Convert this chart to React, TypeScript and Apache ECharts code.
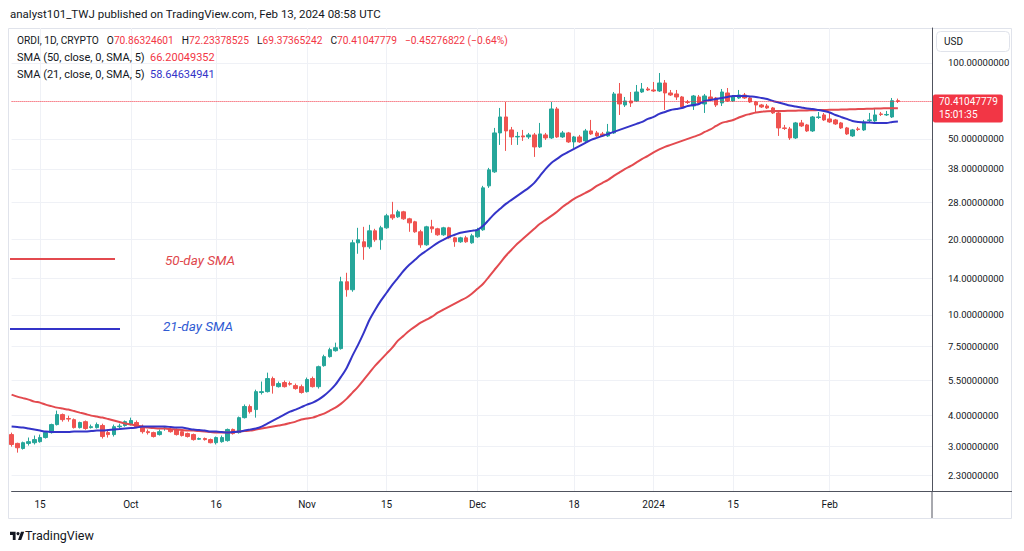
import React, { useEffect, useRef } from "react";
import * as echarts from "echarts";

// ---------- data ----------
const START_DATE = Date.UTC(2023, 8, 10); // Sep 10, 2023
const EMPTY_DAYS_AFTER = 6;

// [open, high, low, close]
const OHLC: number[][] = [
  [3.35, 3.41, 3.0, 3.06], [3.09, 3.11, 2.84, 2.97], [2.95, 3.14, 2.92, 3.11], [3.09, 3.26, 3.03, 3.14],
  [3.11, 3.32, 3.06, 3.2], [3.14, 3.35, 3.11, 3.26], [3.26, 3.44, 3.23, 3.41], [3.41, 3.7, 3.38, 3.67],
  [3.67, 4.17, 3.64, 4.02], [4.02, 4.06, 3.77, 3.84], [3.88, 3.98, 3.77, 3.86], [3.84, 3.88, 3.54, 3.57],
  [3.57, 3.77, 3.54, 3.74], [3.77, 3.81, 3.5, 3.54], [3.57, 3.67, 3.54, 3.6], [3.57, 3.74, 3.54, 3.67],
  [3.64, 3.7, 3.23, 3.29], [3.41, 3.47, 3.26, 3.35], [3.35, 3.67, 3.29, 3.6], [3.6, 3.7, 3.54, 3.62],
  [3.64, 3.81, 3.6, 3.77], [3.67, 3.91, 3.64, 3.81], [3.74, 3.81, 3.57, 3.6], [3.6, 3.67, 3.38, 3.44],
  [3.44, 3.51, 3.35, 3.41], [3.41, 3.44, 3.26, 3.29], [3.35, 3.51, 3.32, 3.44], [3.54, 3.6, 3.47, 3.56],
  [3.51, 3.57, 3.41, 3.44], [3.51, 3.54, 3.32, 3.35], [3.44, 3.47, 3.29, 3.32], [3.38, 3.41, 3.26, 3.29],
  [3.35, 3.38, 3.17, 3.2], [3.21, 3.26, 3.19, 3.23], [3.23, 3.26, 3.17, 3.2], [3.2, 3.23, 3.09, 3.11],
  [3.11, 3.29, 3.06, 3.26], [3.14, 3.32, 3.11, 3.26], [3.17, 3.54, 3.14, 3.51], [3.51, 3.54, 3.35, 3.38],
  [3.41, 3.95, 3.38, 3.91], [3.91, 4.41, 3.88, 4.33], [4.33, 4.41, 4.06, 4.13], [4.21, 5.05, 3.91, 4.96],
  [4.92, 5.44, 4.83, 4.96], [4.96, 5.9, 4.92, 5.59], [5.59, 5.69, 4.87, 5.24], [5.19, 5.44, 5.15, 5.34],
  [5.39, 5.49, 5.15, 5.19], [5.34, 5.44, 5.24, 5.31], [5.24, 5.34, 5.05, 5.1], [5.19, 5.29, 4.87, 4.92],
  [4.96, 5.64, 4.92, 5.54], [5.59, 5.69, 5.15, 5.19], [5.19, 6.29, 5.1, 6.23], [6.29, 6.95, 6.23, 6.83],
  [6.83, 7.41, 6.77, 7.28], [7.21, 7.76, 7.15, 7.41], [7.35, 14.17, 7.28, 13.54], [13.54, 14.7, 11.81, 12.59],
  [12.59, 19.87, 12.36, 19.33], [19.33, 22.17, 17.49, 19.87], [19.51, 22.37, 16.55, 18.64], [18.64, 22.78, 18.3, 21.57],
  [21.57, 21.97, 19.51, 19.87], [19.87, 22.58, 18.14, 22.17], [22.17, 25.19, 21.97, 24.74], [24.96, 28.11, 23.85, 24.29],
  [24.51, 26.13, 24.29, 25.66], [25.66, 25.89, 23.85, 24.07], [24.07, 24.29, 21.38, 23.2], [23.42, 23.63, 21.18, 21.38],
  [21.38, 21.77, 18.47, 18.98], [18.98, 22.58, 18.81, 22.37], [22.37, 23.85, 21.18, 21.97], [21.97, 22.17, 20.61, 20.8],
  [20.8, 22.37, 20.61, 22.17], [22.17, 22.37, 20.05, 20.23], [20.23, 20.42, 18.64, 19.51], [19.51, 20.42, 19.33, 20.23],
  [20.23, 20.61, 19.33, 19.51], [19.33, 20.99, 19.16, 20.61], [20.42, 22.17, 20.23, 21.77], [21.77, 32.53, 21.57, 31.94],
  [32.53, 38.34, 31.94, 37.65], [36.97, 55.24, 36.63, 52.77], [52.77, 66.3, 47.3, 61.07], [61.07, 70.04, 44.78, 53.75],
  [54.24, 55.75, 47.3, 50.88], [50.88, 53.26, 47.3, 51.12], [51.35, 54.24, 49.06, 50.88], [50.88, 52.77, 49.96, 51.82],
  [51.82, 52.77, 42.39, 46.44], [46.44, 57.82, 46.02, 52.29], [51.82, 52.77, 49.51, 50.42], [50.42, 70.04, 49.96, 65.7],
  [65.7, 66.91, 50.42, 50.88], [50.88, 53.75, 50.42, 52.77], [52.77, 53.26, 48.17, 48.61], [48.61, 51.35, 46.02, 50.88],
  [50.88, 51.82, 48.17, 48.61], [49.06, 54.74, 48.61, 53.75], [53.75, 59.43, 51.82, 52.29], [52.77, 53.75, 50.88, 51.35],
  [52.29, 53.26, 50.88, 51.35], [51.35, 57.3, 50.88, 53.26], [52.77, 76.73, 52.29, 75.35], [75.35, 83.3, 62.2, 68.77],
  [68.14, 73.31, 66.91, 70.68], [70.68, 76.73, 66.91, 69.4], [70.68, 81.8, 70.04, 76.73], [76.73, 83.3, 76.04, 78.86],
  [78.86, 80.31, 77.44, 78.15], [78.15, 84.07, 76.73, 77.44], [77.44, 91.27, 76.73, 83.3], [83.3, 85.62, 65.11, 76.04],
  [76.04, 78.15, 73.98, 74.66], [75.35, 78.15, 71.33, 73.31], [73.31, 73.98, 66.3, 66.91], [70.04, 71.33, 68.77, 69.72],
  [67.52, 74.66, 65.11, 73.98], [73.31, 74.66, 68.77, 69.4], [68.77, 75.35, 63.35, 73.98], [73.31, 78.15, 70.68, 71.33],
  [72.64, 73.31, 66.91, 68.14], [69.4, 78.86, 67.52, 76.73], [76.04, 79.58, 70.04, 70.68], [70.68, 74.66, 70.04, 73.31],
  [72.64, 78.15, 71.98, 74.66], [74.66, 76.04, 71.98, 72.64], [72.64, 73.31, 69.4, 70.04], [70.04, 70.68, 63.35, 68.14],
  [68.14, 68.77, 66.3, 66.91], [67.52, 68.77, 65.7, 66.3], [66.3, 66.91, 62.77, 63.35], [63.35, 63.93, 51.35, 55.24],
  [55.24, 56.78, 54.24, 55.0], [54.74, 55.75, 49.51, 50.42], [50.42, 58.35, 49.96, 57.82], [57.82, 59.43, 55.75, 56.26],
  [56.78, 57.3, 53.26, 53.75], [53.75, 61.63, 53.26, 61.07], [60.78, 63.93, 59.98, 61.07], [62.2, 63.35, 58.89, 59.43],
  [59.98, 63.35, 57.82, 58.35], [59.43, 59.98, 56.78, 57.3], [57.82, 58.35, 54.74, 55.24], [55.24, 55.75, 51.82, 52.29],
  [51.35, 54.74, 50.88, 54.24], [54.74, 55.75, 53.75, 54.49], [54.24, 59.43, 53.75, 58.35], [59.16, 63.35, 58.35, 59.43],
  [58.89, 66.3, 58.35, 62.2], [62.77, 63.93, 61.63, 62.48], [62.2, 64.52, 61.63, 62.48], [61.07, 72.64, 60.52, 70.86324601],
  [70.86324601, 72.23378525, 69.37365242, 70.41047779],
];

const SMA21: number[] = [
  3.604, 3.588, 3.571, 3.539, 3.506, 3.474, 3.442, 3.427, 3.427, 3.427,
  3.427, 3.442, 3.442, 3.442, 3.458, 3.474, 3.474, 3.49, 3.506, 3.522,
  3.539, 3.555, 3.571, 3.604, 3.604, 3.604, 3.604, 3.604, 3.588, 3.571,
  3.571, 3.539, 3.506, 3.49, 3.474, 3.442, 3.442, 3.427, 3.411, 3.427,
  3.442, 3.474, 3.506, 3.539, 3.604, 3.704, 3.807, 3.912, 4.021, 4.133,
  4.209, 4.305, 4.405, 4.486, 4.611, 4.782, 5.006, 5.288, 5.688, 6.175,
  6.891, 7.619, 8.502, 9.573, 10.49, 11.39, 12.25, 13.17, 14.04, 14.97,
  15.81, 16.55, 17.33, 17.97, 18.64, 19.33, 19.87, 20.42, 20.8, 21.18,
  21.38, 21.57, 21.77, 22.58, 23.85, 25.19, 26.37, 27.6, 28.63, 29.69,
  30.79, 31.94, 33.43, 35.64, 37.99, 40.13, 41.62, 43.17, 44.37, 45.6,
  46.87, 48.17, 49.51, 50.42, 51.35, 52.29, 53.26, 54.24, 55.24, 56.26,
  57.3, 58.35, 59.98, 61.07, 62.77, 63.93, 65.11, 65.7, 66.3, 67.52,
  68.14, 68.77, 70.68, 71.33, 71.98, 72.64, 73.31, 73.98, 73.98, 73.98,
  73.64, 73.31, 72.64, 71.98, 70.68, 69.72, 68.77, 67.83, 67.21, 66.6,
  66.0, 65.7, 65.11, 64.52, 63.64, 62.2, 61.07, 59.98, 58.89, 58.35,
  58.09, 58.09, 57.82, 57.82, 57.82, 58.35, 58.64634941,
];

const SMA50: number[] = [
  4.826, 4.739, 4.675, 4.611, 4.528, 4.486, 4.405, 4.345, 4.286, 4.247,
  4.209, 4.152, 4.095, 4.04, 3.984, 3.948, 3.912, 3.86, 3.807, 3.755,
  3.704, 3.67, 3.637, 3.604, 3.571, 3.555, 3.539, 3.539, 3.522, 3.506,
  3.49, 3.474, 3.474, 3.458, 3.442, 3.427, 3.411, 3.411, 3.411, 3.427,
  3.442, 3.458, 3.474, 3.506, 3.539, 3.571, 3.604, 3.637, 3.67, 3.721,
  3.772, 3.842, 3.877, 3.912, 3.984, 4.058, 4.171, 4.286, 4.446, 4.653,
  4.915, 5.192, 5.535, 5.9, 6.289, 6.644, 7.018, 7.413, 7.902, 8.272,
  8.658, 8.98, 9.314, 9.573, 9.84, 10.21, 10.49, 10.78, 11.08, 11.39,
  11.7, 12.14, 12.7, 13.29, 14.17, 15.11, 16.1, 17.17, 18.14, 19.16,
  20.05, 20.99, 21.97, 22.99, 23.85, 24.74, 25.66, 26.86, 27.86, 28.88,
  29.69, 30.51, 31.36, 32.53, 33.43, 34.36, 35.64, 36.8, 37.99, 39.05,
  40.32, 41.62, 42.78, 44.17, 45.39, 46.44, 47.3, 48.17, 49.06, 49.96,
  50.88, 51.82, 53.26, 54.49, 56.26, 57.82, 58.62, 59.43, 60.78, 61.91,
  62.77, 63.64, 64.11, 64.41, 64.52, 64.52, 64.52, 64.64, 64.7, 64.76,
  64.82, 64.93, 65.05, 65.11, 65.17, 65.23, 65.35, 65.41, 65.53, 65.64,
  65.7, 65.82, 65.94, 66.0, 66.12, 66.18, 66.20049352,
];

const PRICE_TICKS = [100, 50, 38, 28, 20, 14, 10, 7.5, 5.5, 4, 3, 2.3];

const DATE_LABELS: Record<string, string> = {
  "2023-09-15": "15",
  "2023-10-01": "Oct",
  "2023-10-16": "16",
  "2023-11-01": "Nov",
  "2023-11-15": "15",
  "2023-12-01": "Dec",
  "2023-12-18": "18",
  "2024-01-01": "2024",
  "2024-01-15": "15",
  "2024-02-01": "Feb",
};

const HEADER = "analyst101_TWJ published on TradingView.com, Feb 13, 2024 08:58 UTC";
const SYMBOL = "ORDI, 1D, CRYPTO";
const SMA50_NAME = "SMA (50, close, 0, SMA, 5)";
const SMA21_NAME = "SMA (21, close, 0, SMA, 5)";
const COUNTDOWN = "15:01:35";

// ---------- styles ----------
const FONT = "Roboto, 'Liberation Sans', Arial, sans-serif";
const UP = "#26a69a";
const DOWN = "#ef5350";
const RED_LINE = "#e34a4f";
const BLUE_LINE = "#3434c8";
const TEXT = "#131722";
const GRID = "#eff1f6";
const AXIS = "#50535e";
const VAL_RED = "#f23645";

const TV_LOGO = "M14 22H7V11H0V4h14v18zM28 22h-8l7.5-18h8L28 22z";

export default function App() {
  const ref = useRef<HTMLDivElement>(null);

  useEffect(() => {
    if (!ref.current) return;
    try {
      echarts.graphic.registerShape("tvlogo", echarts.graphic.extendPath(TV_LOGO, {}));
    } catch (e) {
      /* ignore */
    }
    const chart = echarts.init(ref.current, null, { renderer: "svg" });

    const total = OHLC.length + EMPTY_DAYS_AFTER;
    const dates: string[] = [];
    for (let i = 0; i < total; i++) {
      const d = new Date(START_DATE + i * 86400000);
      dates.push(d.toISOString().slice(0, 10));
    }
    const candles = OHLC.map(([o, h, l, c]) => [o, c, l, h]);
    const last = OHLC[OHLC.length - 1];
    const prevClose = OHLC[OHLC.length - 2][3];
    const lastClose = last[3];
    const change = lastClose - prevClose;
    const pct = (change / prevClose) * 100;
    const sign = (v: number) => (v < 0 ? "\u2212" : "");
    const isLabel = (_i: number, v: string) => DATE_LABELS[v] !== undefined;
    const txt = (x: number, y: number, text: string, fill: string, size = 11, extra = "") => ({
      type: "text",
      x,
      y,
      z: 100,
      silent: true,
      style: { text, fill, font: `${extra}${size}px ${FONT}`, verticalAlign: "middle" },
    });
    const gap = "{s| }";
    const ohlcText =
      `{n|${SYMBOL}}${gap}{k|O}{v|${last[0].toFixed(8)}}${gap}{k|H}{v|${last[1].toFixed(8)}}${gap}` +
      `{k|L}{v|${last[2].toFixed(8)}}${gap}{k|C}{v|${last[3].toFixed(8)}}${gap}` +
      `{v|${sign(change)}${Math.abs(change).toFixed(8)}}{k| }{v|(${sign(pct)}${Math.abs(pct).toFixed(2)}%)}`;

    const option: any = {
      animation: false,
      backgroundColor: "#ffffff",
      textStyle: { fontFamily: FONT },
      grid: { left: 11.6, top: 28, width: 920.4, height: 463 },
      xAxis: {
        type: "category",
        data: dates,
        boundaryGap: false,
        axisLine: { show: true, lineStyle: { color: AXIS, width: 1 } },
        axisTick: { show: false },
        axisLabel: {
          interval: isLabel,
          formatter: (v: string) => DATE_LABELS[v] || "",
          color: TEXT,
          fontSize: 10,
          margin: 8,
          fontFamily: FONT,
        },
        splitLine: { show: true, interval: isLabel, lineStyle: { color: GRID, width: 1 } },
      },
      yAxis: {
        type: "log",
        logBase: 10,
        min: 2,
        max: 137.7,
        position: "right",
        axisLine: { show: true, lineStyle: { color: AXIS, width: 1 } },
        axisTick: { show: false },
        axisLabel: { show: false },
        splitLine: { show: false },
      },
      series: [
        {
          type: "candlestick",
          name: "ORDI",
          data: candles,
          barWidth: 4,
          z: 3,
          itemStyle: {
            color: UP,
            color0: DOWN,
            borderColor: UP,
            borderColor0: DOWN,
            borderWidth: 1,
          },
        },
        {
          type: "line",
          name: "SMA50",
          data: SMA50,
          symbol: "none",
          smooth: 0.3,
          clip: false,
          z: 4,
          lineStyle: { color: RED_LINE, width: 2 },
          markLine: {
            silent: true,
            z: 1,
            symbol: ["none", "none"],
            lineStyle: { color: GRID, width: 1, type: "solid" },
            label: {
              show: true,
              position: "end",
              distance: 16,
              color: TEXT,
              fontSize: 9.5,
              fontFamily: FONT,
            },
            data: PRICE_TICKS.map((v) => ({
              yAxis: v,
              label: { formatter: v.toFixed(8) },
            })),
          },
        },
        {
          type: "line",
          name: "SMA21",
          data: SMA21,
          symbol: "none",
          smooth: 0.3,
          clip: false,
          z: 4,
          lineStyle: { color: BLUE_LINE, width: 2 },
          markLine: {
            silent: true,
            z: 6,
            symbol: ["none", "none"],
            lineStyle: { color: VAL_RED, width: 1, type: "dotted" },
            label: {
              show: true,
              position: "end",
              distance: 1,
              offset: [0, 7],
              formatter: lastClose.toFixed(8) + "\n" + COUNTDOWN,
              backgroundColor: VAL_RED,
              color: "#ffffff",
              fontSize: 10,
              lineHeight: 13,
              padding: [1, 5, 1, 6],
              borderRadius: 2,
              fontFamily: FONT,
            },
            data: [{ yAxis: lastClose }],
          },
        },
      ],
      graphic: [
        {
          type: "rect",
          silent: true,
          z: -1,
          shape: { x: 8.5, y: 28.5, width: 1003, height: 490 },
          style: { fill: "none", stroke: "#e0e3eb", lineWidth: 1 },
        },
        {
          type: "line",
          silent: true,
          z: 100,
          shape: { x1: 932, y1: 491, x2: 932, y2: 518 },
          style: { stroke: AXIS, lineWidth: 1 },
        },
        {
          type: "line",
          silent: true,
          z: 100,
          shape: { x1: 932, y1: 491.5, x2: 1012, y2: 491.5 },
          style: { stroke: AXIS, lineWidth: 1 },
        },
        txt(10, 14, HEADER, TEXT, 11.5),
        {
          type: "text",
          x: 17,
          y: 40,
          z: 100,
          silent: true,
          style: {
            text: ohlcText,
            verticalAlign: "middle",
            font: `10px ${FONT}`,
            fill: TEXT,
            rich: {
              n: { fill: TEXT, fontSize: 10.2, fontFamily: FONT },
              k: { fill: TEXT, fontSize: 10.2, fontFamily: FONT },
              v: { fill: VAL_RED, fontSize: 10.2, fontFamily: FONT },
              s: { width: 8, fontSize: 10.2, fontFamily: FONT },
            },
          },
        },
        txt(17, 57, SMA50_NAME, TEXT, 11),
        txt(150, 57, SMA50[SMA50.length - 1].toFixed(8), VAL_RED, 11),
        txt(17, 74, SMA21_NAME, TEXT, 11),
        txt(150, 74, SMA21[SMA21.length - 1].toFixed(8), BLUE_LINE, 11),
        {
          type: "line",
          silent: true,
          z: 100,
          shape: { x1: 10, y1: 259, x2: 115, y2: 259 },
          style: { stroke: RED_LINE, lineWidth: 2 },
        },
        txt(165, 260, "50-day SMA", "#e0474c", 13.5, "italic "),
        {
          type: "line",
          silent: true,
          z: 100,
          shape: { x1: 10, y1: 329, x2: 120, y2: 329 },
          style: { stroke: BLUE_LINE, lineWidth: 2 },
        },
        txt(163, 326, "21-day SMA", "#2f5bd3", 13.5, "italic "),
        {
          type: "rect",
          silent: true,
          z: 100,
          shape: { x: 936.5, y: 31.5, width: 73, height: 20, r: 4 },
          style: { fill: "#ffffff", stroke: "#e0e3eb", lineWidth: 1 },
        },
        txt(944, 41.5, "USD", TEXT, 10),
        {
          type: "tvlogo",
          x: 10,
          y: 530,
          z: 100,
          scaleX: 0.4,
          scaleY: 0.45,
          style: { fill: TEXT },
        },
        {
          type: "circle",
          z: 100,
          shape: { cx: 10 + 20 * 0.4, cy: 530 + 8 * 0.45, r: 1.6 },
          style: { fill: TEXT },
        },
        txt(25, 535, "TradingView", TEXT, 12.5),
      ],
    };

    chart.setOption(option);
    return () => chart.dispose();
  }, []);

  return (
    <div
      ref={ref}
      style={{ position: "fixed", left: 0, top: 0, width: 1024, height: 551, background: "#fff" }}
    />
  );
}
